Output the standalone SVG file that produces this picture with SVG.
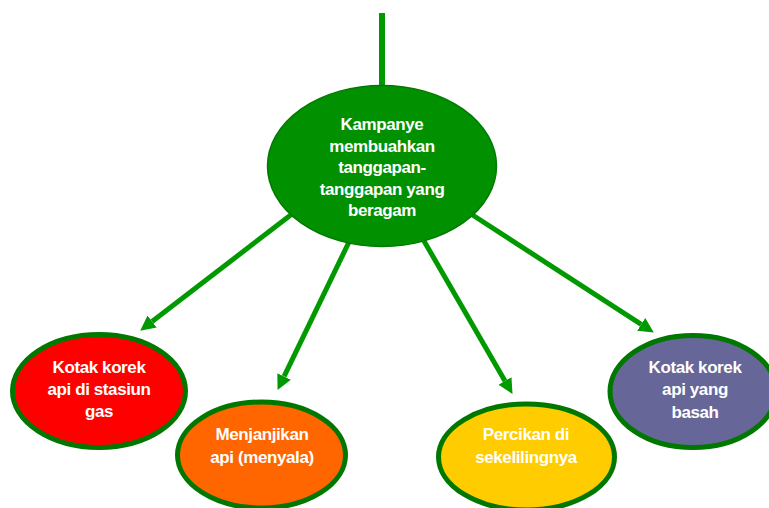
<svg xmlns="http://www.w3.org/2000/svg" width="769" height="508" viewBox="0 0 769 508">
<style>
.conn{stroke:#009900;stroke-width:5;fill:none}
.node{stroke:#007800;stroke-width:5}
.t{font-family:"Liberation Sans",Arial,sans-serif;font-weight:bold;font-size:17px;letter-spacing:-0.4px;fill:#ffffff;text-anchor:middle}
</style>
<defs>
<marker id="ah" markerUnits="userSpaceOnUse" viewBox="0 -8 16 16" refX="0" refY="0" markerWidth="16" markerHeight="16" orient="auto">
<path d="M0,-7.5 L15,0 L0,7.5 z" fill="#009900"/>
</marker>
</defs>
<rect width="769" height="508" fill="#ffffff"/>
<g id="connectors">
<line class="conn" x1="382" y1="13" x2="382" y2="92" style="stroke-width:6"/>
<line class="conn" x1="292" y1="214" x2="152.1" y2="321.5" marker-end="url(#ah)"/>
<line class="conn" x1="349" y1="242" x2="284.1" y2="376.4" marker-end="url(#ah)"/>
<line class="conn" x1="424" y1="241" x2="505" y2="380.9" marker-end="url(#ah)"/>
<line class="conn" x1="471" y1="214" x2="641.2" y2="324.4" marker-end="url(#ah)"/>
</g>
<g id="center">
<ellipse cx="382" cy="166" rx="114.5" ry="80.5" fill="#009000" stroke="#007A00" stroke-width="1.5"/>
<text class="t"><tspan x="382" y="130">Kampanye</tspan><tspan x="382" y="152">membuahkan</tspan><tspan x="382" y="173">tanggapan-</tspan><tspan x="382" y="195">tanggapan yang</tspan><tspan x="382" y="216">beragam</tspan></text>
</g>
<g id="node-red">
<ellipse class="node" cx="99" cy="391" rx="86.5" ry="56.5" fill="#FF0000"/>
<text class="t"><tspan x="99" y="373">Kotak korek</tspan><tspan x="99" y="395">api di stasiun</tspan><tspan x="99" y="417">gas</tspan></text>
</g>
<g id="node-orange">
<ellipse class="node" cx="261.5" cy="455" rx="84" ry="53" fill="#FF6600"/>
<text class="t"><tspan x="262" y="440">Menjanjikan</tspan><tspan x="262" y="463">api (menyala)</tspan></text>
</g>
<g id="node-yellow">
<ellipse class="node" cx="526.5" cy="457" rx="88" ry="53" fill="#FFCC00"/>
<text class="t"><tspan x="526" y="440">Percikan di</tspan><tspan x="526" y="463">sekelilingnya</tspan></text>
</g>
<g id="node-purple">
<ellipse class="node" cx="693" cy="391.5" rx="83" ry="56" fill="#666699"/>
<text class="t"><tspan x="695" y="373">Kotak korek</tspan><tspan x="695" y="395">api yang</tspan><tspan x="695" y="418">basah</tspan></text>
</g>
</svg>
